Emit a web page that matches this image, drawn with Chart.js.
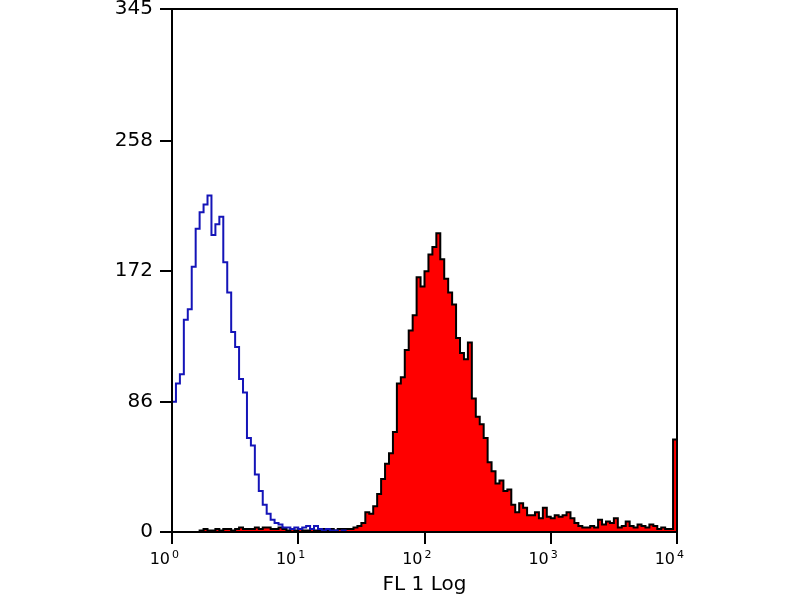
<!DOCTYPE html>
<html>
<head>
<meta charset="utf-8">
<script src="https://cdn.jsdelivr.net/npm/chart.js@4.4.1/dist/chart.umd.min.js"></script>
<style>
  html, body { margin: 0; padding: 0; background: #fff; }
  #wrap { width: 800px; height: 600px; }
</style>
</head>
<body>
<div id="wrap"><canvas id="histo" width="800" height="600"></canvas></div>
<script>
// axis ticks
const decadeTicks = [1, 10, 100, 1000, 10000];
const decadeExponents = ['0', '1', '2', '3', '4'];
const countTicks = [0, 86, 172, 258, 345];

// histogram channels: 128 over 4 decades
const channelsPerDecade = 32;

// isotype control (blue outline), starting at channel 0
const controlStart = 0;
const controlCounts = [
  86, 98, 104, 140, 147, 175, 200, 211, 216, 222,
  196, 203, 208, 178, 158, 132, 122, 101, 92, 62,
  57, 38, 27, 18, 12, 8, 6, 5, 3, 3,
  2, 3, 2, 3, 4, 2, 4, 2, 1, 2,
  1, 1, 0, 1, 0, 0
];

// stained sample (red fill), starting at channel 7
const sampleStart = 7;
const sampleCounts = [
  1, 2, 1, 1, 2, 1, 2, 2, 1, 2,
  3, 2, 2, 2, 3, 2, 3, 3, 2, 2,
  3, 2, 1, 2, 1, 2, 1, 1, 2, 1,
  1, 2, 1, 2, 1, 2, 2, 2,
  // channel 45 ->
  2, 3, 4, 6, 13, 12, 17, 25, 35, 45,
  52, 66, 98, 102, 120, 133, 143, 168, 162, 172,
  183, 188, 197, 180, 167, 158, 150, 128, 118, 114,
  125, 88, 76, 71, 62, 46, 40, 32, 34, 27,
  28, 18, 13, 19, 16, 11, 11, 13, 9, 16,
  10, 9, 11, 10, 11, 13, 9, 6, 4, 3,
  3, 4, 3, 8, 5, 7, 6, 9, 3, 4,
  7, 4, 3, 5, 4, 3, 5, 4, 2, 3,
  2, 2, 61
];

// channel left edge -> fluorescence value on the log axis
function channelEdge(ch) {
  return Math.pow(10, ch / channelsPerDecade);
}

function toSteps(start, counts) {
  const pts = [{ x: channelEdge(start), y: 0 }];
  counts.forEach((c, i) => pts.push({ x: channelEdge(start + i), y: c }));
  pts.push({ x: channelEdge(start + counts.length), y: 0 });
  return pts;
}

// box round the plot area
const framePlugin = {
  id: 'frame',
  afterDatasetsDraw(chart) {
    const { ctx, chartArea: a } = chart;
    ctx.save();
    ctx.strokeStyle = '#000';
    ctx.lineWidth = 2;
    ctx.strokeRect(a.left, a.top, a.right - a.left, a.bottom - a.top);
    ctx.restore();
  }
};

// "10" with a raised exponent under each decade tick
const decadeLabelPlugin = {
  id: 'decadeLabels',
  afterDraw(chart) {
    const { ctx, scales: { x } } = chart;
    ctx.save();
    ctx.fillStyle = '#000';
    ctx.textBaseline = 'alphabetic';
    decadeTicks.forEach((v, i) => {
      const px = x.getPixelForValue(v);
      ctx.font = '16px "DejaVu Sans"';
      ctx.textAlign = 'right';
      ctx.fillText('10', px - 2, 564);
      ctx.font = '11px "DejaVu Sans"';
      ctx.textAlign = 'left';
      ctx.fillText(decadeExponents[i], px, 558);
    });
    ctx.restore();
  }
};

const ctx = document.getElementById('histo').getContext('2d');
new Chart(ctx, {
  type: 'line',
  data: {
    datasets: [
      {
        label: 'Control',
        data: toSteps(controlStart, controlCounts),
        stepped: true,
        borderColor: '#1414b8',
        borderWidth: 2,
        fill: false,
        pointRadius: 0
      },
      {
        label: 'FL 1',
        data: toSteps(sampleStart, sampleCounts),
        stepped: true,
        borderColor: '#000000',
        borderWidth: 2,
        backgroundColor: '#ff0000',
        fill: 'origin',
        pointRadius: 0
      }
    ]
  },
  options: {
    responsive: false,
    devicePixelRatio: 1,
    animation: false,
    layout: { padding: { top: 9, right: 123, bottom: 0, left: 0 } },
    plugins: {
      legend: { display: false },
      tooltip: { enabled: false }
    },
    scales: {
      x: {
        type: 'logarithmic',
        min: 1,
        max: 10000,
        afterBuildTicks: (scale) => { scale.ticks = decadeTicks.map(v => ({ value: v })); },
        afterFit: (scale) => {
          scale.height = 68;
          scale.paddingLeft = 0;
          scale.paddingRight = 0;
        },
        ticks: { display: false },
        grid: { drawOnChartArea: false, drawTicks: true, tickLength: 12, color: '#000', lineWidth: 2 },
        border: { display: true, color: '#000', width: 2 },
        title: {
          display: true,
          text: 'FL 1 Log',
          color: '#000',
          font: { family: 'DejaVu Sans', size: 20 },
          padding: { top: 0, bottom: 3 }
        }
      },
      y: {
        type: 'linear',
        min: 0,
        max: 345,
        afterBuildTicks: (scale) => { scale.ticks = countTicks.map(v => ({ value: v })); },
        afterFit: (scale) => {
          scale.width = 172;
          scale.paddingTop = 0;
          scale.paddingBottom = 0;
        },
        ticks: {
          padding: 7,
          color: '#000',
          font: { family: 'DejaVu Sans', size: 20 },
          callback: (v) => String(v)
        },
        grid: { drawOnChartArea: false, drawTicks: true, tickLength: 12, color: '#000', lineWidth: 2 },
        border: { display: true, color: '#000', width: 2 }
      }
    }
  },
  plugins: [framePlugin, decadeLabelPlugin]
});
</script>
</body>
</html>
